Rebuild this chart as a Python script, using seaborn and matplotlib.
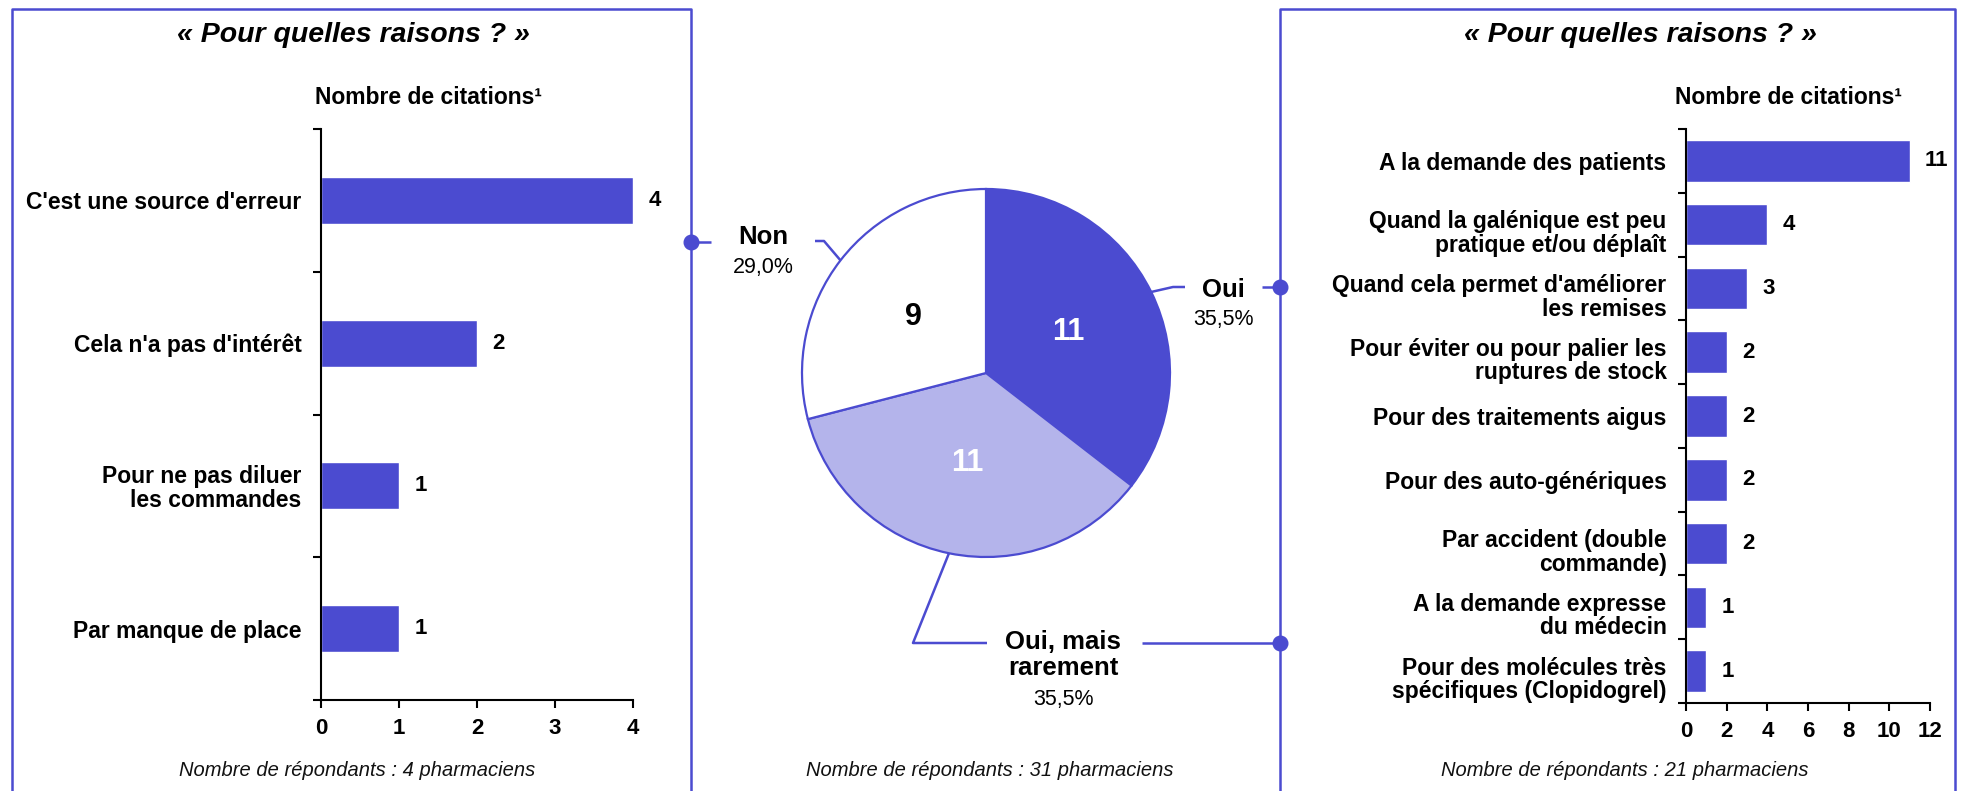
import numpy as np
import pandas as pd
import matplotlib
matplotlib.use("Agg")
import matplotlib.pyplot as plt
import seaborn as sns

# ---------------------------------------------------------------- data
left_reasons = [
    "C'est une source d'erreur",
    "Cela n'a pas d'intérêt",
    "Pour ne pas diluer\nles commandes",
    "Par manque de place",
]
left_counts = [4, 2, 1, 1]
left_ticks = [0, 1, 2, 3, 4]

pie_labels = ["Oui", "Oui, mais\nrarement", "Non"]
pie_counts = [11, 11, 9]
pie_pcts = ["35,5%", "35,5%", "29,0%"]

right_reasons = [
    "A la demande des patients",
    "Quand la galénique est peu\npratique et/ou déplaît",
    "Quand cela permet d'améliorer\nles remises",
    "Pour éviter ou pour palier les\nruptures de stock",
    "Pour des traitements aigus",
    "Pour des auto-génériques",
    "Par accident (double\ncommande)",
    "A la demande expresse\ndu médecin",
    "Pour des molécules très\nspécifiques (Clopidogrel)",
]
right_counts = [11, 4, 3, 2, 2, 2, 2, 1, 1]
right_ticks = [0, 2, 4, 6, 8, 10, 12]

panel_title = "« Pour quelles raisons ? »"
axis_caption = "Nombre de citations¹"
footnotes = [
    "Nombre de répondants : 4 pharmaciens",
    "Nombre de répondants : 31 pharmaciens",
    "Nombre de répondants : 21 pharmaciens",
]

# ---------------------------------------------------------------- style
BLUE = "#4B4BD0"
LIGHT = "#B4B4EB"
W, H, DPI = 1964, 791, 100

sns.set_theme(style="white")
plt.rcParams["font.family"] = ["Liberation Sans", "DejaVu Sans"]
plt.rcParams["axes.linewidth"] = 1.5
for key in ("text.color", "axes.labelcolor", "xtick.color", "ytick.color"):
    plt.rcParams[key] = "black"

fig = plt.figure(figsize=(W / DPI, H / DPI), dpi=DPI)


def frac(x0, y0, x1, y1):
    """Pixel box (top-left origin) -> figure fraction rect."""
    return [x0 / W, 1 - y1 / H, (x1 - x0) / W, (y1 - y0) / H]


def style_bar_axes(ax, n, xmax, ticks, labels, multiline_drop=0.0):
    ax.set_xlim(0, xmax)
    ax.set_ylim(n - 0.5, -0.5)
    ax.set_xlabel("")
    ax.set_ylabel("")
    for side in ("top", "right"):
        ax.spines[side].set_visible(False)
    for side in ("left", "bottom"):
        ax.spines[side].set_color("black")
        ax.spines[side].set_linewidth(1.5)
    ax.set_xticks(ticks)
    ax.set_xticklabels([str(t) for t in ticks], fontsize=16, fontweight="bold")
    ax.tick_params(axis="x", length=6, width=1.5, direction="out",
                   color="black", pad=7, bottom=True)
    # category names, right-aligned next to the axis
    ax.set_yticks([])
    for i, lab in enumerate(labels):
        drop = multiline_drop if "\n" in lab else 0.0
        ax.annotate(lab, xy=(0, i), xycoords=("axes fraction", "data"),
                    xytext=(-14, -drop), textcoords="offset points",
                    ha="right", va="center_baseline", multialignment="right",
                    fontsize=16.5, fontweight="bold", linespacing=1.02,
                    annotation_clip=False)
    ax.set_yticks(np.arange(-0.5, n, 1), minor=True)
    ax.tick_params(axis="y", which="minor", length=6, width=1.5,
                   direction="out", color="black", left=True)
    ax.bar_label(ax.containers[0], padding=11, fontsize=16, fontweight="bold")
    ax.patch.set_alpha(0)


# ---------------------------------------------------------------- left bars
axL = fig.add_axes(frac(321, 129, 633, 700))
dfL = pd.DataFrame({"raison": left_reasons, "n": left_counts})
sns.barplot(data=dfL, x="n", y="raison", orient="h", color=BLUE,
            saturation=1, width=0.33, ax=axL)
style_bar_axes(axL, len(left_reasons), 4, left_ticks, left_reasons)

# ---------------------------------------------------------------- right bars
axR = fig.add_axes(frac(1686, 129, 1930, 703))
dfR = pd.DataFrame({"raison": right_reasons, "n": right_counts})
sns.barplot(data=dfR, x="n", y="raison", orient="h", color=BLUE,
            saturation=1, width=0.65, ax=axR)
style_bar_axes(axR, len(right_reasons), 12, right_ticks, right_reasons,
               multiline_drop=4.5)

# ---------------------------------------------------------------- pie
cx, cy, R = 986, 373, 184
k = 1.3
axP = fig.add_axes(frac(cx - k * R, cy - k * R, cx + k * R, cy + k * R))
total = sum(pie_counts)
wedges, _, autotexts = axP.pie(
    pie_counts,
    colors=[BLUE, LIGHT, "white"],
    startangle=90,
    counterclock=False,
    radius=1,
    wedgeprops=dict(edgecolor=BLUE, linewidth=1.6),
    autopct=lambda p: f"{round(p * total / 100)}",
    pctdistance=0.5,
)
for t, c in zip(autotexts, ["white", "white", "black"]):
    t.set_color(c)
    t.set_fontsize(22)
    t.set_fontweight("bold")
axP.set_xlim(-k, k)
axP.set_ylim(-k, k)
axP.set_aspect("equal")
axP.axis("off")

# ---------------------------------------------------------------- overlay
ov = fig.add_axes([0, 0, 1, 1], zorder=5)
ov.set_xlim(0, W)
ov.set_ylim(H, 0)
ov.axis("off")
ov.patch.set_alpha(0)

line_kw = dict(color=BLUE, lw=1.8, clip_on=False, solid_capstyle="butt")

# panel frames
ov.plot([12, 12, 691, 691], [H + 5, 9, 9, H + 5], **line_kw)
ov.plot([1280, 1280, 1955, 1955], [H + 5, 9, 9, H + 5], **line_kw)

# titles, captions, footnotes
for xc in (353, 1640):
    ov.text(xc, 35, panel_title, ha="center", va="center", fontsize=20.5,
            fontweight="bold", fontstyle="italic")
for xs in (315, 1675):
    ov.text(xs, 97, axis_caption, ha="left", va="center", fontsize=16.5,
            fontweight="bold")
for xc, txt in zip((357, 990, 1625), footnotes):
    ov.text(xc, 770, txt, ha="center", va="center", fontsize=14.5,
            fontstyle="italic", color="#111111")


def edge_point(w):
    mid = np.deg2rad((w.theta1 + w.theta2) / 2)
    return cx + R * np.cos(mid), cy - R * np.sin(mid)


# leader lines: (elbow, end), label centre, link to frame (start, dot)
leaders = [
    ((1173, 287), (1185, 287), (1223, 290), ((1262, 287), (1280, 287))),
    ((913, 643), (987, 643), (1063, 655), ((1142, 643), (1280, 643))),
    ((824, 241), (815, 241), (763, 237), ((711, 242), (691, 242))),
]
for w, lab, pct, (elbow, end, lc, link) in zip(wedges, pie_labels, pie_pcts, leaders):
    ex, ey = edge_point(w)
    ov.plot([ex, elbow[0], end[0]], [ey, elbow[1], end[1]], **line_kw)
    ov.plot([link[0][0], link[1][0]], [link[0][1], link[1][1]], **line_kw)
    ov.plot(link[1][0], link[1][1], "o", ms=10.5, color=BLUE, clip_on=False)
    nlines = lab.count("\n") + 1
    ov.text(lc[0], lc[1], lab, ha="center", va="center", fontsize=18.5,
            fontweight="bold", linespacing=1.15)
    ov.text(lc[0], lc[1] + 15 * nlines + 15, pct, ha="center", va="center",
            fontsize=15.5)

fig.savefig("out.png", dpi=DPI)
